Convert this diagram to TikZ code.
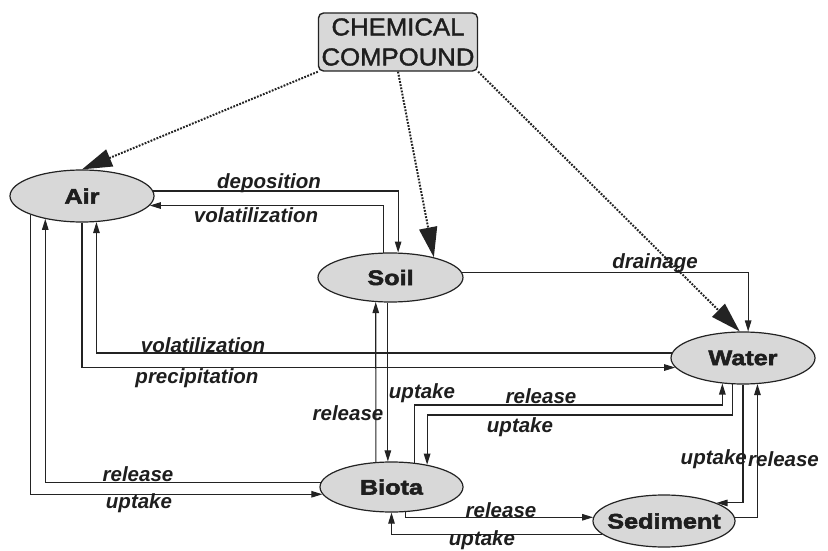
\documentclass[tikz,border=0pt]{standalone}
\usepackage{fontspec}
\setmainfont{Liberation Sans}
\newfontface\nodefont{Liberation Sans Bold}[FakeStretch=1.2, FakeBold=2.5]
\newfontface\chemfont{Liberation Sans}[FakeStretch=1.05, FakeBold=1.5]
\usetikzlibrary{shapes.geometric,arrows.meta}
\definecolor{linec}{RGB}{35,35,35}
\definecolor{fillc}{RGB}{216,216,216}
\definecolor{textc}{RGB}{30,30,30}
\begin{document}
\begin{tikzpicture}[x=1pt,y=-1pt,
  env/.style={ellipse, draw=linec, fill=fillc, line width=1.2pt,
    minimum width=144pt, minimum height=52pt, inner sep=0pt,
    font=\nodefont\fontsize{21}{22}\selectfont, text=textc},
  chembox/.style={rectangle, rounded corners=5pt, draw=linec, fill=fillc,
    line width=1.4pt, minimum width=159pt, minimum height=58pt, inner sep=0pt,
    align=center, font=\chemfont\fontsize{24.5}{30}\selectfont, text=textc},
  flow/.style={draw=linec, line width=1.1pt, -{Triangle[length=11pt,width=6.5pt]}},
  src/.style={draw=linec, line width=2pt, dash pattern=on 1.8pt off 1.4pt,
    -{Triangle[length=30pt,width=18pt]}},
  lbl/.style={font=\bfseries\itshape\fontsize{20.5}{22}\selectfont, text=textc, inner sep=0pt}]
\fill[white] (0,0) rectangle (828,551);
\useasboundingbox (0,0) rectangle (828,551);

% nodes
\node[chembox] (chem) at (398,42) {CHEMICAL\\COMPOUND};
\node[env] (air) at (82,196) {\makebox[0pt]{Air}};
\node[env, minimum width=145pt, minimum height=49pt] (soil) at (390.5,277.5) {\makebox[0pt]{Soil}};
\node[env] (water) at (743,358) {\makebox[0pt]{Water}};
\node[env, minimum width=143pt, minimum height=50pt] (biota) at (391.5,487) {\makebox[0pt]{Biota}};
\node[env, minimum width=142pt] (sediment) at (664,521) {\makebox[0pt]{Sediment}};

% dotted sources
\draw[src] (chem.south west) -- (air.north);
\draw[src] (chem.south) -- (soil.25);
\draw[src] (chem.south east) -- (water.97);

% flows
\draw[flow] (air.4) -| (soil.73);
\draw[flow] (soil.105) |- (air.352);
\draw[flow] (soil.4) -| (water.79);
\draw[flow] (water.176) -| (air.299);
\draw[flow] (air.south) |- (water.188);
\draw[flow] (biota.176) -| (air.212);
\draw[flow] (air.200) |- (biota.186);
\draw[flow] (biota.122) -- (soil.239);
\draw[flow] (soil.264) -- (soil.264 |- biota.north);
\draw[flow] (biota.46) -- (biota.46 |- 0,405) -| (water.231);
\draw[flow] (water.249) -- (water.249 |- 0,415) -| (biota.32);
\draw[flow] (water.south) |- (sediment.19);
\draw[flow] (sediment.3) -| (water.299);
\draw[flow] (biota.299) |- (sediment.177);
\draw[flow] (sediment.192) -| (biota.south);

% labels
\node[lbl] (tdep) at (269,183) {deposition};
\node[lbl] (tvol1) at (256,215) {volatilization};
\node[lbl] (tdrain) at (655,263) {drainage};
\node[lbl] (tvol2) at (203,345) {volatilization};
\node[lbl] (tprec) at (197,378) {precipitation};
\node[lbl] (trelA) at (138,474) {release};
\node[lbl] (tupA) at (139,503) {uptake};
\node[lbl] (trelS) at (348,413) {release};
\node[lbl] (tupS) at (422,393) {uptake};
\node[lbl] (trelW) at (541,396) {release};
\node[lbl] (tupW) at (520,427) {uptake};
\node[lbl, anchor=east] (tupD) at (747,459) {uptake};
\node[lbl, anchor=west] (trelD) at (748,459) {release};
\node[lbl] (trelB) at (501,510) {release};
\node[lbl] (tupB) at (482,540) {uptake};
\end{tikzpicture}
\end{document}
